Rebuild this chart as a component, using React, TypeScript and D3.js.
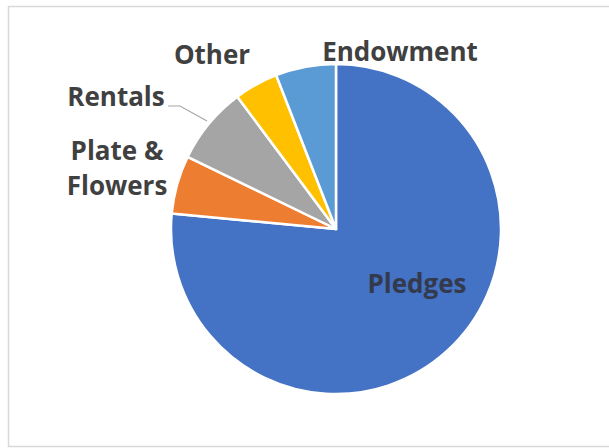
import React from "react";
import * as d3 from "d3";

const categories = ["Pledges", "Plate & Flowers", "Rentals", "Other", "Endowment"];
const values = [76.5, 5.7, 7.6, 4.3, 5.9];
const colors = ["#4472C4", "#ED7D31", "#A5A5A5", "#FFC000", "#5B9BD5"];

const W = 609;
const H = 448;
const cx = 336;
const cy = 229;
const R = 165;

export default function App() {
  const data = categories.map((c, i) => ({ name: c, value: values[i], color: colors[i] }));
  const pie = d3
    .pie<any>()
    .sort(null)
    .value((d) => d.value)
    .startAngle(0)
    .endAngle(2 * Math.PI);
  const arcs = pie(data);
  const arc = d3.arc<any>().innerRadius(0).outerRadius(R);
  const font = "'Open Sans', sans-serif";
  const lab = { fontFamily: font, fontWeight: 700, fontSize: 26, fill: "#404040" } as any;
  return (
    <svg
      width={W}
      height={H}
      style={{ position: "absolute", left: 0, top: 0, background: "#fff" }}
    >
      <rect x={8.5} y={6.5} width={W} height={440} fill="#fff" stroke="#d9d9d9" strokeWidth={1.5} />
      <g transform={`translate(${cx},${cy})`}>
        {arcs.map((a, i) => (
          <path key={i} d={arc(a) as string} fill={a.data.color} stroke="#fff" strokeWidth={2.5} strokeLinejoin="round" />
        ))}
      </g>
      <polyline points="168,106 180,106 207,121" fill="none" stroke="#a6a6a6" strokeWidth={1.2} />
      <text x={400} y={61} textAnchor="middle" {...lab}>Endowment</text>
      <text x={212} y={64} textAnchor="middle" {...lab}>Other</text>
      <text x={116} y={106} textAnchor="middle" {...lab}>Rentals</text>
      <text x={117} y={160} textAnchor="middle" {...lab}>Plate &amp;</text>
      <text x={117} y={195} textAnchor="middle" {...lab}>Flowers</text>
      <text x={417} y={293} textAnchor="middle" {...lab} fill="#333a4d">Pledges</text>
    </svg>
  );
}
